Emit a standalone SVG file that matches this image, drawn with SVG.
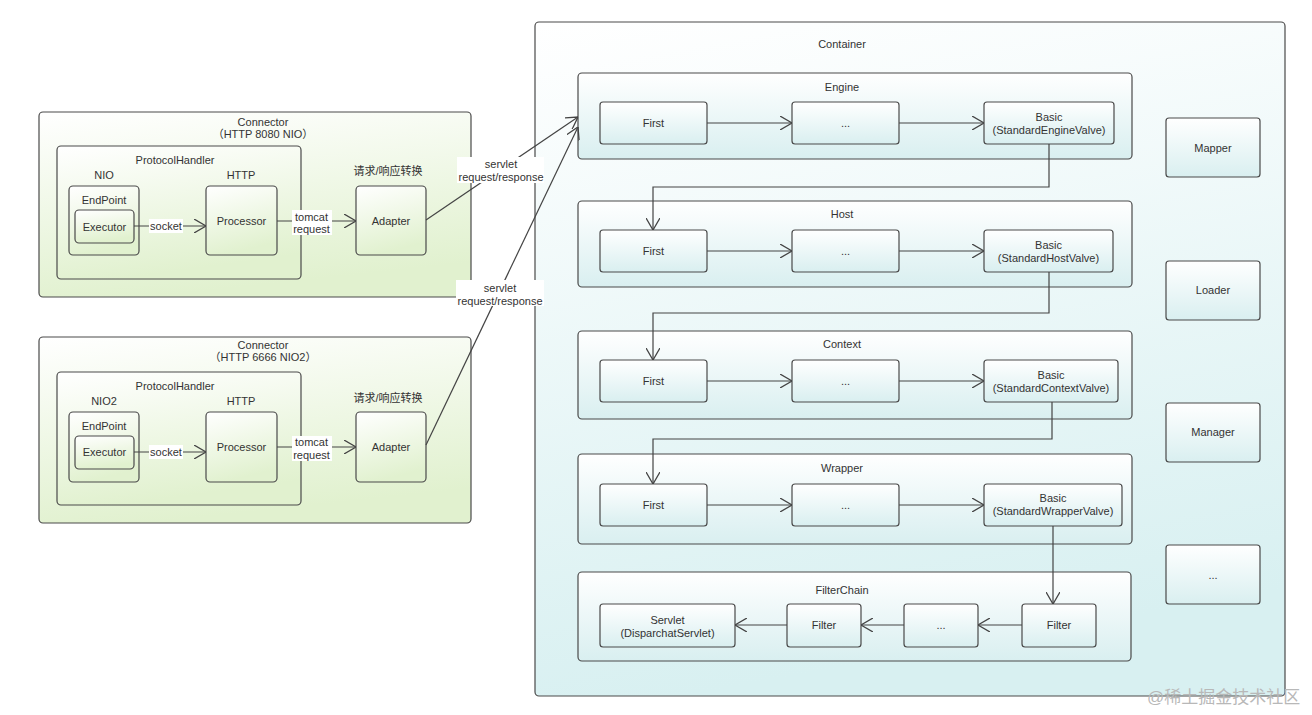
<svg xmlns="http://www.w3.org/2000/svg" width="1312" height="715" viewBox="0 0 1312 715">
<defs>
<linearGradient id="gGreen" x1="0" y1="0" x2="0.25" y2="1">
<stop offset="0" stop-color="#ffffff"/>
<stop offset="1" stop-color="#e1f1cf"/>
</linearGradient>
<linearGradient id="gCont" x1="0" y1="0" x2="0.2" y2="1">
<stop offset="0" stop-color="#ffffff"/>
<stop offset="1" stop-color="#d8f0f1"/>
</linearGradient>
<linearGradient id="gBlue" x1="0" y1="0" x2="0" y2="1">
<stop offset="0" stop-color="#ffffff"/>
<stop offset="1" stop-color="#d9eff0"/>
</linearGradient>
<marker id="arr" viewBox="0 0 12 14" refX="12" refY="7" markerWidth="12" markerHeight="14" markerUnits="userSpaceOnUse" orient="auto">
<path d="M0,0 L12,7 L0,14" fill="none" stroke="#444" stroke-width="1.3"/>
</marker>
</defs>
<style>
text{font-family:"Liberation Sans",Arial,"Noto Sans CJK SC",sans-serif;font-size:11px;fill:#333;text-anchor:middle;dominant-baseline:central}
.g{fill:url(#gGreen);stroke:#4a4a4a;stroke-width:1.2}
.c{fill:url(#gCont);stroke:#4a4a4a;stroke-width:1.2}
.b{fill:url(#gBlue);stroke:#4a4a4a;stroke-width:1.2}
.ln{fill:none;stroke:#444;stroke-width:1.2}
.a{fill:none;stroke:#444;stroke-width:1.2;marker-end:url(#arr)}
.lb{fill:#ffffff}
.wm{font-size:17px;fill:#b8b8b8;text-anchor:start}
</style>
<rect width="1312" height="715" fill="#ffffff"/>

<g id="connector1">
<rect class="g" x="39" y="112" width="432" height="185" rx="4"/>
<text x="263" y="122">Connector</text>
<text x="263" y="134">（HTTP 8080 NIO）</text>
</g>
<g id="protocolHandler1">
<rect class="g" x="57" y="146" width="244" height="133" rx="4"/>
<text x="175" y="160">ProtocolHandler</text>
<text x="104" y="175">NIO</text>
<text x="241" y="175">HTTP</text>
</g>
<g id="endpoint1">
<rect class="g" x="69" y="186" width="70" height="69" rx="4"/>
<text x="104" y="200">EndPoint</text>
</g>
<g id="executor1">
<rect class="g" x="75" y="210" width="59" height="33" rx="4"/>
<text x="104.5" y="227">Executor</text>
</g>
<g id="processor1">
<rect class="g" x="206" y="186" width="71" height="69" rx="4"/>
<text x="241.5" y="221">Processor</text>
</g>
<g id="adapter1">
<text x="388" y="171">请求/响应转换</text>
<rect class="g" x="356" y="186" width="70" height="69" rx="4"/>
<text x="391" y="221">Adapter</text>
</g>

<g id="connector2">
<rect class="g" x="39" y="337" width="432" height="186" rx="4"/>
<text x="263" y="345">Connector</text>
<text x="263" y="357">（HTTP 6666 NIO2）</text>
</g>
<g id="protocolHandler2">
<rect class="g" x="57" y="372" width="244" height="133" rx="4"/>
<text x="175" y="386">ProtocolHandler</text>
<text x="104" y="401">NIO2</text>
<text x="241" y="401">HTTP</text>
</g>
<g id="endpoint2">
<rect class="g" x="69" y="412" width="70" height="70" rx="4"/>
<text x="104" y="426">EndPoint</text>
</g>
<g id="executor2">
<rect class="g" x="75" y="436" width="59" height="33" rx="4"/>
<text x="104.5" y="452">Executor</text>
</g>
<g id="processor2">
<rect class="g" x="206" y="412" width="71" height="70" rx="4"/>
<text x="241.5" y="447">Processor</text>
</g>
<g id="adapter2">
<text x="388" y="398">请求/响应转换</text>
<rect class="g" x="356" y="412" width="70" height="70" rx="4"/>
<text x="391" y="447">Adapter</text>
</g>

<g id="container">
<rect class="c" x="535" y="22" width="750" height="674" rx="4"/>
<text x="842" y="44">Container</text>
</g>

<g id="engine">
<rect class="b" x="578" y="73" width="554" height="86" rx="4"/>
<text x="842" y="87">Engine</text>
</g>
<g id="engineFirst"><rect class="b" x="600" y="102" width="107" height="42" rx="3"/><text x="653.5" y="123">First</text></g>
<g id="engineDots"><rect class="b" x="792" y="102" width="107" height="42" rx="3"/><text x="845.5" y="123">...</text></g>
<g id="engineBasic"><rect class="b" x="984" y="102" width="130" height="42" rx="3"/><text x="1049" y="117">Basic</text><text x="1049" y="130">(StandardEngineValve)</text></g>

<g id="host">
<rect class="b" x="578" y="201" width="554" height="86" rx="4"/>
<text x="842" y="214">Host</text>
</g>
<g id="hostFirst"><rect class="b" x="600" y="230" width="107" height="42" rx="3"/><text x="653.5" y="251">First</text></g>
<g id="hostDots"><rect class="b" x="792" y="230" width="107" height="42" rx="3"/><text x="845.5" y="251">...</text></g>
<g id="hostBasic"><rect class="b" x="984" y="230" width="129" height="42" rx="3"/><text x="1048.5" y="245">Basic</text><text x="1048.5" y="258">(StandardHostValve)</text></g>

<g id="context">
<rect class="b" x="578" y="331" width="554" height="88" rx="4"/>
<text x="842" y="344">Context</text>
</g>
<g id="contextFirst"><rect class="b" x="600" y="360" width="107" height="42" rx="3"/><text x="653.5" y="381">First</text></g>
<g id="contextDots"><rect class="b" x="792" y="360" width="107" height="42" rx="3"/><text x="845.5" y="381">...</text></g>
<g id="contextBasic"><rect class="b" x="984" y="360" width="134" height="42" rx="3"/><text x="1051" y="375">Basic</text><text x="1051" y="388">(StandardContextValve)</text></g>

<g id="wrapper">
<rect class="b" x="578" y="454" width="554" height="90" rx="4"/>
<text x="842" y="468">Wrapper</text>
</g>
<g id="wrapperFirst"><rect class="b" x="600" y="484" width="107" height="42" rx="3"/><text x="653.5" y="505">First</text></g>
<g id="wrapperDots"><rect class="b" x="792" y="484" width="107" height="42" rx="3"/><text x="845.5" y="505">...</text></g>
<g id="wrapperBasic"><rect class="b" x="984" y="484" width="138" height="42" rx="3"/><text x="1053" y="498">Basic</text><text x="1053" y="511">(StandardWrapperValve)</text></g>

<g id="filterChain">
<rect class="b" x="578" y="572" width="553" height="89" rx="4"/>
<text x="842" y="590">FilterChain</text>
</g>
<g id="servlet"><rect class="b" x="600" y="604" width="135" height="43" rx="3"/><text x="667.5" y="620">Servlet</text><text x="667.5" y="633">(DisparchatServlet)</text></g>
<g id="filter2"><rect class="b" x="787" y="604" width="74" height="43" rx="3"/><text x="824" y="625">Filter</text></g>
<g id="filterDots"><rect class="b" x="904" y="604" width="74" height="43" rx="3"/><text x="941" y="625">...</text></g>
<g id="filter1"><rect class="b" x="1022" y="604" width="74" height="43" rx="3"/><text x="1059" y="625">Filter</text></g>

<g id="mapper"><rect class="b" x="1166" y="118" width="94" height="59" rx="3"/><text x="1213" y="148">Mapper</text></g>
<g id="loader"><rect class="b" x="1166" y="261" width="94" height="59" rx="3"/><text x="1213" y="290">Loader</text></g>
<g id="manager"><rect class="b" x="1166" y="403" width="94" height="59" rx="3"/><text x="1213" y="432">Manager</text></g>
<g id="more"><rect class="b" x="1166" y="545" width="94" height="59" rx="3"/><text x="1213" y="575">...</text></g>

<g id="connectors">
<line class="a" x1="134" y1="226" x2="206" y2="226"/>
<rect class="lb" x="149" y="219" width="34" height="14"/>
<text x="166" y="226">socket</text>
<line class="a" x1="277" y1="221" x2="356" y2="221"/>
<rect class="lb" x="292" y="210" width="40" height="25"/>
<text x="311.5" y="217">tomcat</text>
<text x="311.5" y="229">request</text>
<line class="a" x1="134" y1="452" x2="206" y2="452"/>
<rect class="lb" x="149" y="445" width="34" height="14"/>
<text x="166" y="452">socket</text>
<line class="a" x1="277" y1="447" x2="356" y2="447"/>
<rect class="lb" x="292" y="436" width="40" height="25"/>
<text x="311.5" y="442">tomcat</text>
<text x="311.5" y="455">request</text>

<line class="a" x1="426" y1="220" x2="578" y2="117"/>
<line class="a" x1="426" y1="445" x2="578" y2="127"/>
<rect class="lb" x="457" y="157" width="87" height="26"/>
<text x="501" y="164">servlet</text>
<text x="501" y="177">request/response</text>
<rect class="lb" x="456" y="280" width="88" height="26"/>
<text x="500" y="288">servlet</text>
<text x="500" y="301">request/response</text>

<line class="a" x1="707" y1="123" x2="792" y2="123"/>
<line class="a" x1="899" y1="123" x2="984" y2="123"/>
<polyline class="a" points="1049,144 1049,187 653,187 653,230"/>
<line class="a" x1="707" y1="251" x2="792" y2="251"/>
<line class="a" x1="899" y1="251" x2="984" y2="251"/>
<polyline class="a" points="1049,272 1049,313 653,313 653,360"/>
<line class="a" x1="707" y1="381" x2="792" y2="381"/>
<line class="a" x1="899" y1="381" x2="984" y2="381"/>
<polyline class="a" points="1052,402 1052,439 653,439 653,484"/>
<line class="a" x1="707" y1="505" x2="792" y2="505"/>
<line class="a" x1="899" y1="505" x2="984" y2="505"/>
<line class="a" x1="1053" y1="526" x2="1053" y2="604"/>
<line class="a" x1="1022" y1="625" x2="978" y2="625"/>
<line class="a" x1="904" y1="625" x2="861" y2="625"/>
<line class="a" x1="787" y1="625" x2="735" y2="625"/>
</g>

<text class="wm" x="1147" y="697">@稀土掘金技术社区</text>
</svg>
